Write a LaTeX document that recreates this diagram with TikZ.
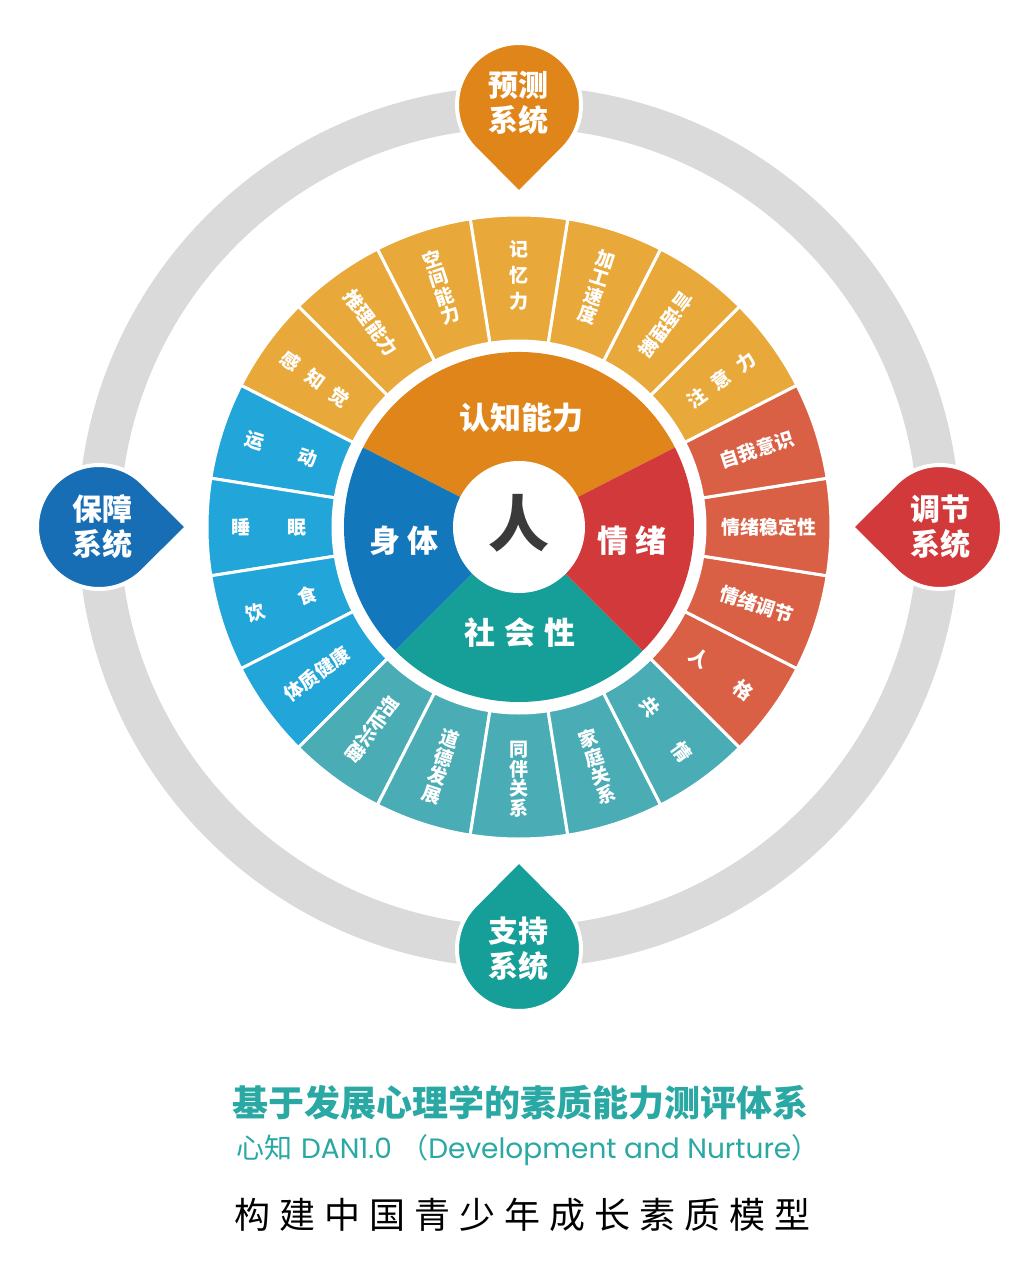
\documentclass[tikz,border=0pt]{standalone}
\usepackage{fontspec}
\newfontfamily\cjk{Noto Sans CJK SC}
\newfontfamily\cjkwide[LetterSpace=25]{Noto Sans CJK SC}
\newfontfamily\latinf{Poppins}
\usetikzlibrary{calc}

\definecolor{ringgray}{HTML}{DADADA}
\definecolor{cogdark}{HTML}{E0851A}
\definecolor{coglight}{HTML}{E9A93A}
\definecolor{emodark}{HTML}{D2393A}
\definecolor{emolight}{HTML}{DA6045}
\definecolor{socdark}{HTML}{169E98}
\definecolor{soclight}{HTML}{4AADB6}
\definecolor{bodydark}{HTML}{1377BB}
\definecolor{bodylight}{HTML}{22A5D8}
\definecolor{bodymark}{HTML}{186EB4}
\definecolor{titleteal}{HTML}{2AA8A3}
\definecolor{rendark}{HTML}{3A3A3A}

\newcommand\dropmark[4]{%
  \filldraw[fill=#4, markedge] ($(#1,#2)+(#3:88)$) -- ($(#1,#2)+(#3+45:62)$)
    arc[start angle=#3+45, end angle=#3+315, radius=62] -- cycle;}

\begin{document}
\begin{tikzpicture}[x=1pt,y=1pt,
  seglabel/.style={text=white, font=\cjk\bfseries\fontsize{19}{19.5}\selectfont, inner sep=0pt, align=center},
  pielabel/.style={text=white, font=\cjk\bfseries\fontsize{31}{34}\selectfont, inner sep=0pt},
  marklabel/.style={text=white, font=\cjk\bfseries\fontsize{30}{35}\selectfont, inner sep=0pt, align=center},
  segsep/.style={draw=white, line width=3pt},
  markedge/.style={draw=white, line width=4pt},
]
\useasboundingbox (-519,-751) rectangle (505,527);
\fill[white] (-519,-751) rectangle (505,527);

% grey outer ring
\draw[ringgray, line width=42pt] (0,0) circle[radius=420];

% outer segments
\foreach \k/\c in {0/coglight,1/coglight,2/coglight,3/coglight,4/coglight,5/coglight,6/coglight,
                   7/bodylight,8/bodylight,9/bodylight,10/bodylight,
                   11/soclight,12/soclight,13/soclight,14/soclight,15/soclight,
                   16/emolight,17/emolight,18/emolight,19/emolight}
  \filldraw[fill=\c, segsep] (27+18*\k:186) arc[start angle=27+18*\k, end angle=45+18*\k, radius=186]
    -- (45+18*\k:312) arc[start angle=45+18*\k, end angle=27+18*\k, radius=312] -- cycle;

% inner pie
\fill[cogdark] (0,0) -- (27:175) arc[start angle=27, end angle=153, radius=175] -- cycle;
\fill[bodydark] (0,0) -- (153:175) arc[start angle=153, end angle=225, radius=175] -- cycle;
\fill[socdark] (0,0) -- (225:175) arc[start angle=225, end angle=315, radius=175] -- cycle;
\fill[emodark] (0,0) -- (315:175) arc[start angle=315, end angle=387, radius=175] -- cycle;
\fill[white] (0,0) circle[radius=66];

% markers
\dropmark{0}{422}{-90}{cogdark}
\dropmark{-420}{0}{0}{bodymark}
\dropmark{421}{0}{180}{emodark}
\dropmark{0}{-422}{90}{socdark}
\node[marklabel] (mtop) at (0,424) {预测\\系统};
\node[marklabel] (mleft) at (-416,0) {保障\\系统};
\node[marklabel] (mright) at (421,0) {调节\\系统};
\node[marklabel] (mbottom) at (0,-422) {支持\\系统};

% centre
\node[font=\cjk\bfseries\fontsize{61}{61}\selectfont, text=rendark, inner sep=0pt] (ren) at (0,4) {人};
\node[pielabel] (cog) at (3,109) {认知能力};
\node[pielabel] (body) at (-115,-14) {身\hspace{0.25em}体};
\node[pielabel] (emo) at (113,-14) {情\hspace{0.25em}绪};
\node[pielabel] (soc) at (1,-106) {社\hspace{0.3em}会\hspace{0.3em}性};

% cognition segments
\node[seglabel, rotate=-36] (s1) at (144:252) {感\hspace{0.6em}知\hspace{0.6em}觉};
\node[seglabel, rotate=-54] (s2) at (126:252) {推理能力};
\node[seglabel, rotate=18] (s3) at (108:252) {空\\间\\能\\力};
\node[seglabel, font=\cjk\bfseries\fontsize{19}{26}\selectfont] (s4) at (90:252) {记\\忆\\力};
\node[seglabel, rotate=-18] (s5) at (72:252) {加\\工\\速\\度};
\node[seglabel, rotate=-126] (s6) at (54:250) {言语理解};
\node[seglabel, rotate=36] (s7) at (36:250) {注\hspace{0.6em}意\hspace{0.6em}力};
% emotion segments
\node[seglabel, rotate=18] (e1) at (18:250) {自我意识};
\node[seglabel] (e2) at (0:250) {情绪稳定性};
\node[seglabel, rotate=-18] (e3) at (-18:250) {情绪调节};
\node[seglabel, rotate=-36] (e4) at (-36:250) {人\hspace{1.9em}格};
% social segments
\node[seglabel, rotate=-54] (c1) at (-54:250) {共\hspace{1.9em}情};
\node[seglabel, rotate=18] (c2) at (-72:252) {家\\庭\\关\\系};
\node[seglabel] (c3) at (-90:252) {同\\伴\\关\\系};
\node[seglabel, rotate=-18] (c4) at (-108:252) {道\\德\\发\\展};
\node[seglabel, rotate=-126] (c5) at (-126:250) {职业兴趣};
% body segments
\node[seglabel, rotate=36] (b1) at (216:250) {体质健康};
\node[seglabel, rotate=18] (b2) at (198:250) {饮\hspace{1.9em}食};
\node[seglabel] (b3) at (180:250) {睡\hspace{1.9em}眠};
\node[seglabel, rotate=-18] (b4) at (162:250) {运\hspace{1.9em}动};

% bottom texts
\node[font=\cjk\bfseries\fontsize{36}{40}\selectfont, text=titleteal, inner sep=0pt] (title) at (2,-576) {基于发展心理学的素质能力测评体系};
\node[font=\fontsize{28}{30}\selectfont, text=titleteal, inner sep=0pt] (sub) at (9,-623) {{\cjk 心知} {\latinf DAN1.0} {\cjk （}{\latinf Development and Nurture}{\cjk ）}};
\node[font=\cjkwide\fontsize{36}{40}\selectfont, text=black, inner sep=0pt] (slogan) at (4,-688) {构建中国青少年成长素质模型};
\end{tikzpicture}
\end{document}
